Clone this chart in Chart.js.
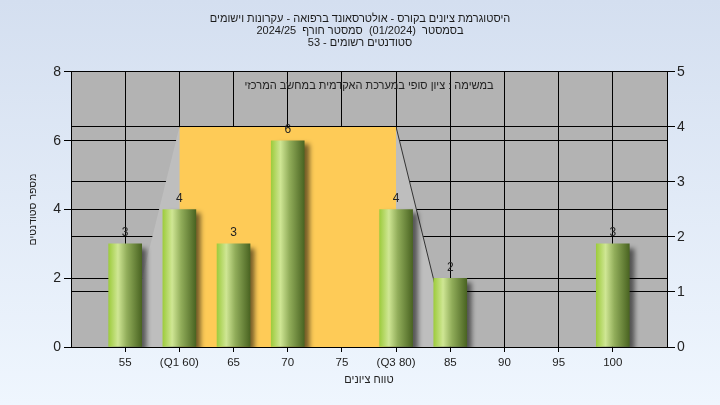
<!DOCTYPE html>
<html lang="he">
<head>
<meta charset="UTF-8">
<title>Grade histogram</title>
<script src="https://cdn.jsdelivr.net/npm/chart.js"></script>
<style>
    body { margin: 0; background: #eef5fe; }
    #wrap { width: 720px; height: 405px; }
</style>
</head>
<body>
<div id="wrap"><canvas id="histChart" width="720" height="405"></canvas></div>
<script>
// grade buckets and number of students in each
const grades = [55, 60, 65, 70, 75, 80, 85, 90, 95, 100];
const tickLabels = ['55', '(Q1 60)', '65', '70', '75', '(Q3 80)', '85', '90', '95', '100'];
const counts = [3, 4, 3, 6, 0, 4, 2, 0, 0, 3];

// box shape (right axis): min, Q1, Q3, max
const boxX = [55, 60, 80, 85];
const boxY = [0, 4, 4, 0];
const quartX = [60, 80];
const quartY = [4, 4];
const whiskerX = [80, 85];
const whiskerY = [4, 0];

const titleLines = [
    'היסטוגרמת ציונים בקורס - אולטרסאונד ברפואה - עקרונות וישומים',
    'בסמסטר  (01/2024)  סמסטר חורף  2024/25',
    'סטודנטים רשומים - 53'
];
const innerNote = 'במשימה : ציון סופי במערכת האקדמית במחשב המרכזי';

const FONT = 'Arial, "Liberation Sans", sans-serif';
const BAR_W = 33;
const pts = (xs, ys) => xs.map((x, i) => ({ x: x, y: ys[i] }));

// cylinder look for each bar
function barFill(c) {
    const chart = c.chart;
    const xs = chart.scales && chart.scales.x;
    if (c.type !== 'data' || !xs) return '#8fb14a';
    if (!counts[c.dataIndex]) return 'rgba(0,0,0,0)';
    const cx = xs.getPixelForValue(grades[c.dataIndex]);
    if (!isFinite(cx)) return '#8fb14a';
    const g = chart.ctx.createLinearGradient(cx - BAR_W / 2, 0, cx + BAR_W / 2, 0);
    g.addColorStop(0, '#9ecc3e');
    g.addColorStop(0.28, '#cfe694');
    g.addColorStop(0.55, '#91ad5a');
    g.addColorStop(1, '#4a6422');
    return g;
}

const bgPlugin = {
    id: 'bg',
    beforeDraw(chart) {
        const ctx = chart.ctx, a = chart.chartArea;
        const g = ctx.createLinearGradient(0, 0, 0, chart.height);
        g.addColorStop(0, '#d4dff0');
        g.addColorStop(1, '#eff6fe');
        ctx.save();
        ctx.fillStyle = g;
        ctx.fillRect(0, 0, chart.width, chart.height);
        ctx.fillStyle = '#b3b3b3';
        ctx.fillRect(a.left, a.top, a.right - a.left, a.bottom - a.top);
        ctx.restore();
    }
};

// soft shadow behind the bars
const shadowPlugin = {
    id: 'shadow',
    beforeDatasetDraw(chart, args) {
        if (args.meta.type !== 'bar') return;
        const ctx = chart.ctx;
        ctx.save();
        ctx.shadowColor = 'rgba(0,0,0,0.55)';
        ctx.shadowBlur = 5;
        ctx.shadowOffsetX = 5;
        ctx.shadowOffsetY = 4;
    },
    afterDatasetDraw(chart, args) {
        if (args.meta.type !== 'bar') return;
        chart.ctx.restore();
    }
};

const labelPlugin = {
    id: 'labels',
    afterDatasetsDraw(chart) {
        const ctx = chart.ctx, a = chart.chartArea;
        ctx.save();
        ctx.font = '12px ' + FONT;
        ctx.fillStyle = '#222';
        ctx.textAlign = 'center';
        ctx.textBaseline = 'bottom';
        const meta = chart.getDatasetMeta(0);
        meta.data.forEach((bar, i) => {
            if (!counts[i]) return;
            ctx.fillText(String(counts[i]), bar.x, bar.y - 5);
        });
        ctx.font = '11px ' + FONT;
        ctx.textBaseline = 'middle';
        ctx.fillText(innerNote, (a.left + a.right) / 2, a.top + 14);
        ctx.restore();
    }
};

const ctx = document.getElementById('histChart').getContext('2d');
new Chart(ctx, {
    type: 'bar',
    data: {
        datasets: [
            {
                type: 'bar',
                data: pts(grades, counts),
                backgroundColor: barFill,
                borderWidth: 0,
                barThickness: BAR_W,
                yAxisID: 'y',
                order: 0
            },
            {
                type: 'line',
                data: pts(quartX, quartY),
                yAxisID: 'y1',
                fill: 'origin',
                backgroundColor: '#fecb57',
                borderWidth: 0,
                pointRadius: 0,
                order: 1
            },
            {
                type: 'line',
                data: pts(whiskerX, whiskerY),
                yAxisID: 'y1',
                fill: false,
                borderColor: '#333',
                borderWidth: 1,
                pointRadius: 0,
                order: 2
            },
            {
                type: 'line',
                data: pts(boxX, boxY),
                yAxisID: 'y1',
                fill: 'origin',
                backgroundColor: '#bebebe',
                borderWidth: 0,
                pointRadius: 0,
                order: 3
            }
        ]
    },
    options: {
        responsive: false,
        animation: false,
        events: [],
        layout: { padding: 0 },
        plugins: {
            legend: { display: false },
            tooltip: { enabled: false },
            title: {
                display: true,
                text: titleLines,
                color: '#1b1b1b',
                font: { family: FONT, size: 11, weight: 'normal', lineHeight: 1.09 },
                padding: { top: 13, bottom: 23 }
            }
        },
        scales: {
            x: {
                type: 'linear',
                offset: false,
                min: 50,
                max: 105,
                afterBuildTicks: (axis) => { axis.ticks = grades.map(v => ({ value: v })); },
                afterFit: (s) => { s.height = 58; },
                grid: { color: '#000', lineWidth: 1, tickLength: 5, offset: false },
                border: { color: '#000', width: 1 },
                ticks: {
                    autoSkip: false,
                    maxRotation: 0,
                    padding: 4,
                    color: '#222',
                    font: { family: FONT, size: 11.5 },
                    callback: (v) => { const i = grades.indexOf(v); return i < 0 ? '' : tickLabels[i]; }
                },
                title: {
                    display: true,
                    text: 'טווח ציונים',
                    color: '#222',
                    font: { family: FONT, size: 11 },
                    padding: { top: 0, bottom: 18 }
                }
            },
            y: {
                position: 'left',
                min: 0,
                max: 8,
                afterFit: (s) => { s.width = 71; },
                grid: { color: '#000', lineWidth: 1, tickLength: 7 },
                border: { color: '#000', width: 1 },
                ticks: {
                    stepSize: 2,
                    padding: 3,
                    color: '#222',
                    font: { family: FONT, size: 14 }
                },
                title: {
                    display: true,
                    text: 'מספר סטודנטים',
                    color: '#222',
                    font: { family: FONT, size: 10.5 },
                    padding: { top: 27, bottom: 0 }
                }
            },
            y1: {
                position: 'right',
                min: 0,
                max: 5,
                afterFit: (s) => { s.width = 53; },
                grid: { color: '#000', lineWidth: 1, tickLength: 8 },
                border: { color: '#000', width: 1 },
                ticks: {
                    stepSize: 1,
                    padding: 2,
                    color: '#222',
                    font: { family: FONT, size: 14 }
                }
            }
        }
    },
    plugins: [bgPlugin, shadowPlugin, labelPlugin]
});
</script>
</body>
</html>
